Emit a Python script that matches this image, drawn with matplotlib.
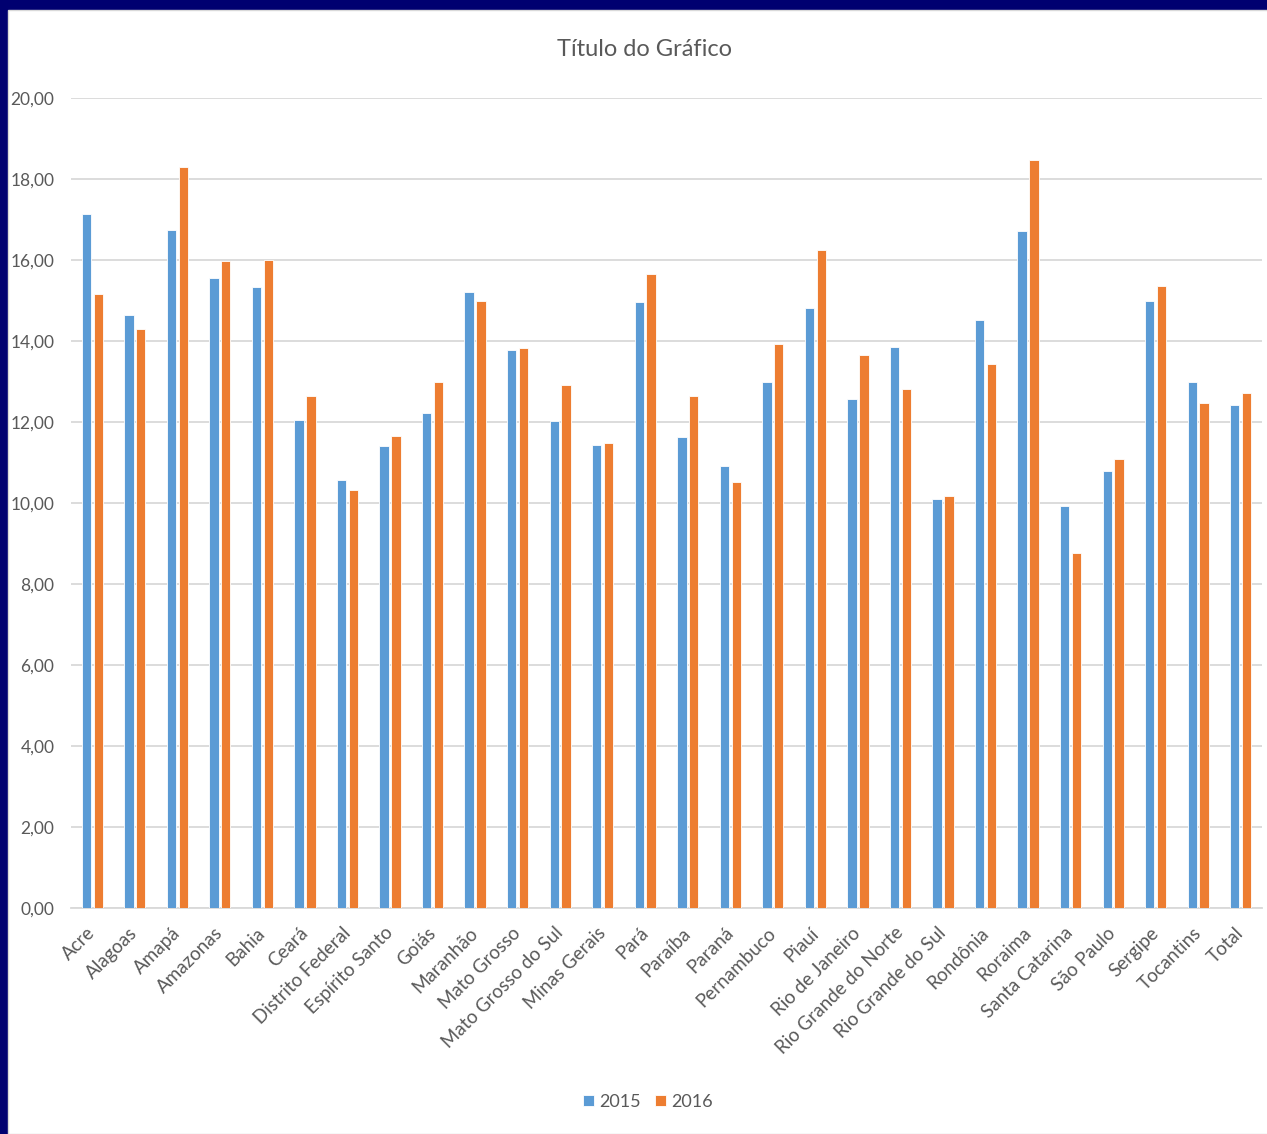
import matplotlib.pyplot as plt
from matplotlib.patches import Rectangle
import numpy as np

# Dados
estados = ['Acre', 'Alagoas', 'Amapá', 'Amazonas', 'Bahia', 'Ceará', 'Distrito Federal',
           'Espírito Santo', 'Goiás', 'Maranhão', 'Mato Grosso', 'Mato Grosso do Sul',
           'Minas Gerais', 'Pará', 'Paraíba', 'Paraná', 'Pernambuco', 'Piauí',
           'Rio de Janeiro', 'Rio Grande do Norte', 'Rio Grande do Sul', 'Rondônia',
           'Roraima', 'Santa Catarina', 'São Paulo', 'Sergipe', 'Tocantins', 'Total']
valores_2015 = [17.14, 14.63, 16.75, 15.55, 15.33, 12.05, 10.57, 11.41, 12.21, 15.21,
                13.79, 12.02, 11.44, 14.96, 11.63, 10.91, 13.00, 14.82, 12.56, 13.84,
                10.09, 14.51, 16.72, 9.93, 10.79, 14.99, 13.00, 12.41]
valores_2016 = [15.15, 14.29, 18.29, 15.97, 16.00, 12.64, 10.32, 11.66, 13.00, 14.99,
                13.82, 12.92, 11.47, 15.66, 12.64, 10.52, 13.93, 16.25, 13.65, 12.81,
                10.17, 13.42, 18.46, 8.76, 11.08, 15.36, 12.47, 12.72]
yticks = [0, 2, 4, 6, 8, 10, 12, 14, 16, 18, 20]

plt.rcParams['font.family'] = ['Lato', 'DejaVu Sans']
cinza = '#595959'

fig = plt.figure(figsize=(12.67, 11.34), dpi=100, facecolor='#000070')
# area branca do gráfico (fundo do slide em azul escuro)
fig.patches.append(Rectangle((8 / 1267, 0), 1, 1 - 10 / 1134, transform=fig.transFigure,
                             facecolor='white', edgecolor='#d9d9d9', linewidth=1, zorder=-5))

ax = fig.add_axes([71 / 1267, 1 - 908 / 1134, (1262 - 71) / 1267, (908 - 98) / 1134])
ax.set_facecolor('white')

x = np.arange(len(estados))
largura = 0.22
ax.bar(x - 0.139, valores_2015, largura, color='#5B9BD5', edgecolor='white',
       linewidth=0.6, label='2015', zorder=3)
ax.bar(x + 0.139, valores_2016, largura, color='#ED7D31', edgecolor='white',
       linewidth=0.6, label='2016', zorder=3)

ax.set_xlim(-0.5, len(estados) - 0.5)
ax.set_ylim(0, 20)
ax.set_yticks(yticks)
ax.yaxis.set_major_formatter(plt.FuncFormatter(lambda v, p: ('%.2f' % v).replace('.', ',')))
ax.grid(axis='y', color='#d9d9d9', linewidth=1.3, zorder=0)
ax.set_axisbelow(True)

for s in ['top', 'right', 'left']:
    ax.spines[s].set_visible(False)
ax.spines['bottom'].set_color('#d9d9d9')
ax.spines['bottom'].set_linewidth(1.3)

ax.set_xticks(x)
ax.set_xticklabels(estados, rotation=45, ha='right', va='center', rotation_mode='anchor')
ax.tick_params(axis='x', length=0, pad=16, labelsize=13.5, labelcolor=cinza)
ax.tick_params(axis='y', length=0, pad=12, labelsize=12.5, labelcolor=cinza)

fig.text(645 / 1267, 1 - 50 / 1134, 'Título do Gráfico', ha='center', va='center',
         fontsize=17, color=cinza)

fig.legend(loc='center', bbox_to_anchor=(648 / 1267, 1 - 1102 / 1134), ncol=2,
           frameon=False, handlelength=0.6, handleheight=0.6, handletextpad=0.3,
           columnspacing=0.8, fontsize=13, labelcolor=cinza)

plt.savefig('out.png', dpi=100, facecolor=fig.get_facecolor())
